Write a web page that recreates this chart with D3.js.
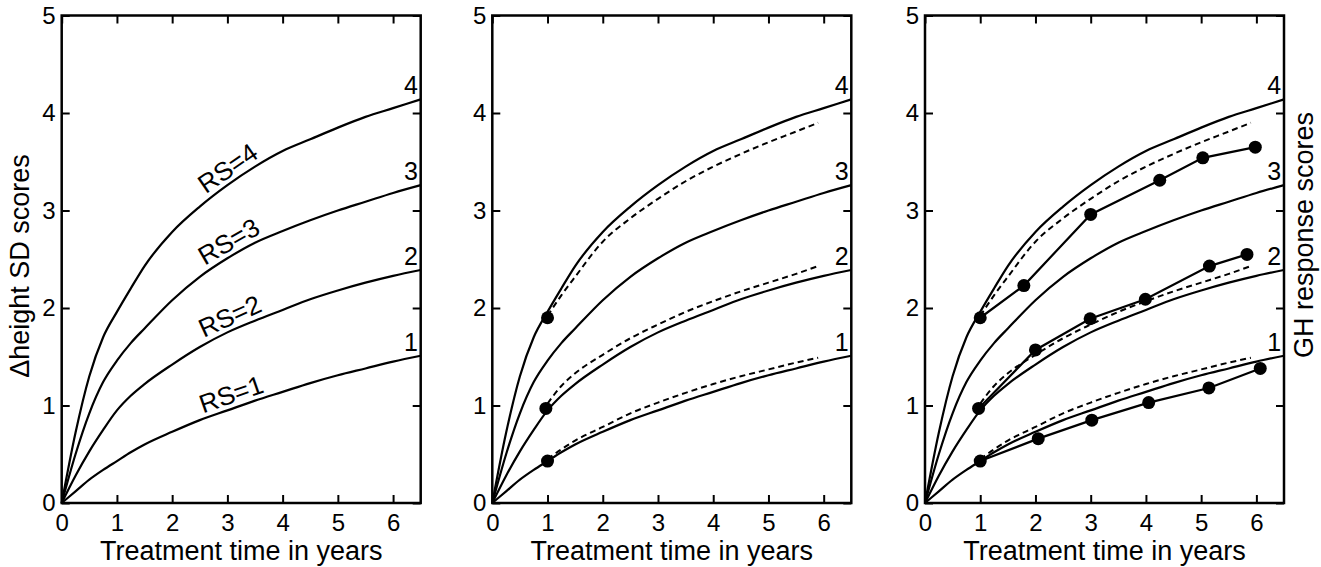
<!DOCTYPE html>
<html>
<head>
<meta charset="utf-8">
<script src="https://cdn.jsdelivr.net/npm/d3@7"></script>
<style>
  body { margin: 0; background: #fff; }
  svg { display: block; font-family: "Liberation Sans", Arial, Helvetica, sans-serif; }
</style>
</head>
<body>
<svg width="1321" height="567"></svg>
<script>
// model curves, response score 1..4
var years = [0, 0.25, 0.5, 0.75, 1, 1.25, 1.5, 2, 2.5, 3, 3.5, 4, 4.5, 5, 5.5, 6, 6.5]
var rs1 = [0, 0.12, 0.24, 0.34, 0.43, 0.52, 0.6, 0.73, 0.85, 0.95, 1.05, 1.14, 1.23, 1.31, 1.38, 1.45, 1.51]
var rs2 = [0, 0.28, 0.53, 0.75, 0.95, 1.1, 1.22, 1.42, 1.6, 1.75, 1.87, 1.98, 2.09, 2.18, 2.26, 2.33, 2.39]
var rs3 = [0, 0.5, 0.92, 1.24, 1.46, 1.64, 1.79, 2.08, 2.32, 2.51, 2.67, 2.79, 2.9, 3.0, 3.09, 3.18, 3.26]
var rs4 = [0, 0.72, 1.3, 1.7, 1.96, 2.2, 2.43, 2.78, 3.04, 3.26, 3.45, 3.61, 3.73, 3.85, 3.96, 4.05, 4.14]
var rsNames = ['1', '2', '3', '4']

// predicted (dashed) curves from year 1
var predYears = [1, 1.25, 1.5, 2, 2.5, 3, 3.5, 4, 4.5, 5, 5.5, 5.9]
var pred1 = [0.45, 0.55, 0.64, 0.78, 0.92, 1.03, 1.13, 1.22, 1.3, 1.37, 1.44, 1.49]
var pred2 = [1.02, 1.2, 1.33, 1.52, 1.69, 1.83, 1.96, 2.07, 2.17, 2.26, 2.35, 2.43]
var pred4 = [1.92, 2.13, 2.32, 2.68, 2.92, 3.12, 3.3, 3.45, 3.58, 3.7, 3.81, 3.9]

// observed points
var obs1x = [1.0, 2.05, 3.02, 4.05, 5.14, 6.07]
var obs1y = [0.43, 0.66, 0.85, 1.03, 1.18, 1.38]
var obs2x = [0.97, 2.0, 2.99, 3.99, 5.15, 5.83]
var obs2y = [0.97, 1.57, 1.89, 2.09, 2.43, 2.55]
var obs4x = [1.0, 1.79, 3.0, 4.25, 5.03, 5.98]
var obs4y = [1.9, 2.23, 2.96, 3.31, 3.54, 3.65]

var xTicks = [0, 1, 2, 3, 4, 5, 6]
var yTicks = [0, 1, 2, 3, 4, 5]
var xTitle = 'Treatment time in years'
var yTitle = '\u0394height SD scores'
var y2Title = 'GH response scores'

var svg = d3.select('svg')
var panelLefts = [61.7, 492.3, 925]
var panelW = 359
var plotTop = 15.5
var panelH = 487.5

var x = d3.scaleLinear().domain([0, 6.5]).range([0, panelW])
var y = d3.scaleLinear().domain([0, 5]).range([panelH, 0])
var fmt = d3.format('d')

var curves = [rs1, rs2, rs3, rs4]
var preds = [pred1, pred2, pred4]
var obs = [[obs1x, obs1y], [obs2x, obs2y], [obs4x, obs4y]]

function zip (xs, ys) {
  return xs.map(function (d, i) { return [d, ys[i]] })
}

var line = d3.line()
  .x(function (d) { return x(d[0]) })
  .y(function (d) { return y(d[1]) })
  .curve(d3.curveMonotoneX)

var straight = d3.line()
  .x(function (d) { return x(d[0]) })
  .y(function (d) { return y(d[1]) })

function axes (g) {
  function clean (a) {
    a.select('.domain').remove()
    a.attr('font-family', null).attr('font-size', 24)
    a.selectAll('line').attr('stroke-width', 2)
    a.selectAll('text').attr('fill', '#000')
  }
  g.append('g').attr('transform', 'translate(0,' + panelH + ')')
    .call(d3.axisBottom(x).tickValues(xTicks).tickFormat(fmt).tickSize(-8).tickSizeOuter(0).tickPadding(11))
    .call(clean)
  g.append('g')
    .call(d3.axisTop(x).tickValues(xTicks).tickSize(-8).tickSizeOuter(0).tickFormat(''))
    .call(clean)
  g.append('g')
    .call(d3.axisLeft(y).tickValues(yTicks).tickFormat(fmt).tickSize(-8).tickSizeOuter(0).tickPadding(6))
    .call(clean)
  g.append('g').attr('transform', 'translate(' + panelW + ',0)')
    .call(d3.axisRight(y).tickValues(yTicks).tickSize(-8).tickSizeOuter(0).tickFormat(''))
    .call(clean)
  g.append('rect')
    .attr('width', panelW).attr('height', panelH)
    .attr('fill', 'none').attr('stroke', '#000').attr('stroke-width', 2.5)
}

function drawPanel (i) {
  var g = svg.append('g').attr('transform', 'translate(' + panelLefts[i] + ',' + plotTop + ')')

  curves.forEach(function (c, k) {
    g.append('path')
      .attr('d', line(zip(years, c)))
      .attr('fill', 'none').attr('stroke', '#000').attr('stroke-width', 2.2)
    var last = c[c.length - 1]
    g.append('text')
      .attr('x', x(6.45))
      .attr('y', y(last) - 5)
      .attr('text-anchor', 'end')
      .attr('font-size', 25)
      .text(rsNames[k])
  })

  if (i === 0) {
    curves.forEach(function (c, k) {
      var f = d3.scaleLinear().domain(years).range(c)
      var x0 = x(2.6), y0 = y(f(2.6))
      var x1 = x(3.7), y1 = y(f(3.7))
      var ang = Math.atan2(y1 - y0, x1 - x0) * 180 / Math.PI
      var tm = 3.15
      g.append('text')
        .attr('transform', 'translate(' + x(tm) + ',' + y(f(tm)) + ') rotate(' + ang + ')')
        .attr('y', -5)
        .attr('text-anchor', 'middle')
        .attr('font-size', 26)
        .text('RS=' + rsNames[k])
    })
  }

  if (i > 0) {
    preds.forEach(function (p) {
      g.append('path')
        .attr('d', line(zip(predYears, p)))
        .attr('fill', 'none').attr('stroke', '#000').attr('stroke-width', 2)
        .attr('stroke-dasharray', '6,4')
    })
    obs.forEach(function (o) {
      var pts = zip(o[0], o[1])
      if (i === 1) pts = pts.slice(0, 1)
      if (i === 2) {
        g.append('path')
          .attr('d', straight(pts))
          .attr('fill', 'none').attr('stroke', '#000').attr('stroke-width', 2.2)
      }
      g.selectAll(null).data(pts).enter().append('circle')
        .attr('cx', function (d) { return x(d[0]) })
        .attr('cy', function (d) { return y(d[1]) })
        .attr('r', 6.5)
        .attr('fill', '#000')
    })
  }

  axes(g)

  g.append('text')
    .attr('x', panelW / 2)
    .attr('y', 560 - plotTop)
    .attr('text-anchor', 'middle')
    .attr('font-size', 27)
    .text(xTitle)
}

drawPanel(0)
drawPanel(1)
drawPanel(2)

svg.append('text')
  .attr('transform', 'translate(29,266) rotate(-90)')
  .attr('text-anchor', 'middle')
  .attr('font-size', 27)
  .text(yTitle)

svg.append('text')
  .attr('transform', 'translate(1313,235) rotate(-90)')
  .attr('text-anchor', 'middle')
  .attr('font-size', 27)
  .text(y2Title)
</script>
</body>
</html>
